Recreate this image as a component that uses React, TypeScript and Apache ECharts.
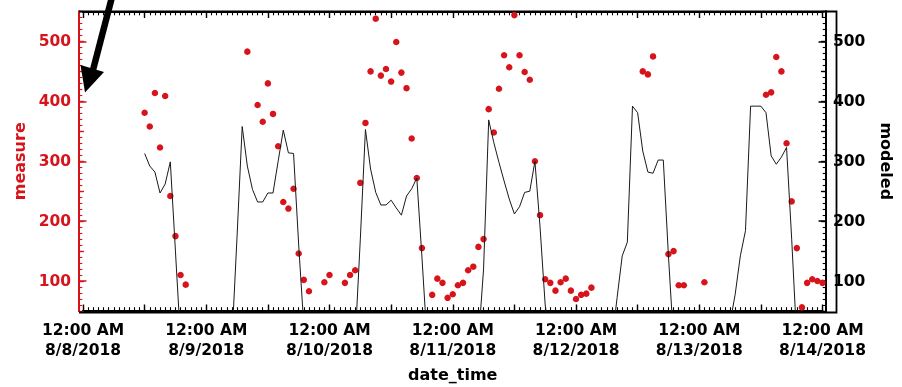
import React, { useEffect, useRef } from 'react';
import * as echarts from 'echarts';

// measured values (hours since 8/8/2018 12:00 AM)
const measureHours = [
  12, 13, 14, 15, 16, 17, 18, 19, 20,
  32, 34, 35, 36, 37, 38, 39, 40, 41, 42, 43, 44,
  47, 48, 51, 52, 53, 54, 55, 56, 57, 58, 59, 60, 61, 62, 63, 64, 65, 66,
  68, 69, 70, 71, 72, 73, 74, 75, 76, 77, 78, 79, 80, 81, 82, 83, 84, 85, 86, 87, 88, 89, 90, 91, 92, 93, 94, 95, 96, 97, 98, 99,
  109, 110, 111, 114, 115, 116, 117, 121,
  133, 134, 135, 136, 137, 138, 139, 140, 141, 142, 143, 144,
];
const measureValues = [
  381, 358, 414, 323, 409, 242, 175, 110, 94,
  483, 394, 366, 430, 379, 325, 232, 221, 254, 146, 102, 83,
  98, 110, 97, 110, 118, 264, 364, 450, 538, 443, 454, 433, 499, 448, 422, 338, 272, 155,
  77, 104, 97, 72, 78, 93, 97, 118, 124, 157, 170, 387, 348, 421, 477, 457, 544, 477, 449, 436, 300, 210, 103, 97, 84, 98, 104, 84, 70, 77, 79, 89,
  450, 445, 475, 145, 150, 93, 93, 98,
  411, 415, 474, 450, 330, 233, 155, 56, 97, 103, 100, 97,
];

// modeled values, hourly from hour 12 to hour 144
const modeledStartHour = 12;
const modeledValues = [
  313, 292, 282, 247, 262, 299, 150,
  0, 0, 0, 0, 0, 0, 0, 0, 0, 0, 0,
  175, 358, 292, 253, 232, 232, 247, 247, 300, 352, 314, 313, 160, 25,
  0, 0, 0, 0, 0, 0, 0, 0, 0, 0,
  170, 353, 287, 248, 227, 227, 235, 222, 210, 242, 254, 272, 140,
  0, 0, 0, 0, 0, 0, 0, 0, 0, 0, 0,
  120, 369, 331, 298, 267, 237, 212, 224, 248, 250, 300, 190, 60,
  0, 0, 0, 0, 0, 0, 0, 0, 0, 0, 0, 0, 0,
  72, 142, 165, 392, 381, 317, 282, 280, 302, 302, 142,
  0, 0, 0, 0, 0, 0, 0, 0, 0, 0, 0,
  30, 78, 142, 184, 392, 392, 392, 381, 309, 295, 307, 323, 170,
  0, 0, 0, 0, 0, 0,
];

const timeLabel = '12:00 AM';
const dayLabels = ['8/8/2018', '8/9/2018', '8/10/2018', '8/11/2018', '8/12/2018', '8/13/2018', '8/14/2018'];
const yMajorTicks = [100, 200, 300, 400, 500];

export default function App() {
  const ref = useRef<HTMLDivElement>(null);
  useEffect(() => {
    const chart = echarts.init(ref.current as HTMLDivElement, null, { renderer: 'svg' });
    const RED = '#d7141b';
    const FONT = 'DejaVu Sans';
    const measureData = measureHours.map((h, i) => [h, measureValues[i]]);
    const modeledData = modeledValues.map((v, i) => [modeledStartHour + i, v]);

    const xTicks = (pos: string, interval: number, length: number, width: number) => ({
      type: 'value',
      min: 0,
      max: 144,
      interval,
      position: pos,
      axisLine: { show: true, onZero: false, lineStyle: { color: '#000', width: 1.8 } },
      axisLabel: { show: false },
      axisTick: { show: true, inside: true, length, lineStyle: { color: '#000', width } },
      splitLine: { show: false },
    });

    const yTicks = (pos: string, color: string, offset: number, interval: number, length: number, width: number, custom?: number[]) => ({
      type: 'value',
      min: 50,
      max: 550,
      interval,
      position: pos,
      offset,
      axisLine: { show: true, onZero: false, lineStyle: { color, width: 1.8 } },
      axisLabel: { show: false },
      axisTick: custom
        ? { show: true, inside: true, length, customValues: custom, lineStyle: { color, width } }
        : { show: true, inside: true, length, lineStyle: { color, width } },
      splitLine: { show: false },
    });

    const yLabel = (color: string, margin: number) => ({
      show: true,
      margin,
      color,
      fontFamily: FONT,
      fontWeight: 'bold',
      fontSize: 15.5,
      formatter: (v: number) => (yMajorTicks.indexOf(v) >= 0 ? String(v) : ''),
    });

    chart.setOption({
      animation: false,
      grid: { left: 83, right: 69, top: 11.5, bottom: 74.5 },
      xAxis: [
        {
          ...xTicks('bottom', 12, 6.5, 1.4),
          name: 'date_time',
          nameLocation: 'middle',
          nameGap: 55,
          nameTextStyle: { color: '#000', fontFamily: FONT, fontWeight: 'bold', fontSize: 16 },
          axisLabel: {
            show: true,
            margin: 8.5,
            color: '#000',
            fontFamily: FONT,
            fontWeight: 'bold',
            fontSize: 15.5,
            lineHeight: 20,
            formatter: (v: number) => (v % 24 === 0 ? `${timeLabel}\n${dayLabels[v / 24]}` : ''),
          },
        },
        xTicks('bottom', 1, 3.8, 1.1),
        xTicks('top', 12, 6.5, 1.4),
        xTicks('top', 1, 3.8, 1.1),
      ],
      yAxis: [
        {
          ...yTicks('left', RED, 4, 50, 5, 1.4),
          name: 'measure',
          nameLocation: 'middle',
          nameGap: 40,
          nameTextStyle: { color: RED, fontFamily: FONT, fontWeight: 'bold', fontSize: 16 },
          axisLabel: yLabel(RED, 8),
        },
        yTicks('left', RED, 4, 10, 3.3, 1.1),
        {
          ...yTicks('right', '#000', 3.5, 50, 5, 1.4),
          name: 'modeled',
          nameLocation: 'middle',
          nameGap: 52,
          nameRotate: -90,
          nameTextStyle: { color: '#000', fontFamily: FONT, fontWeight: 'bold', fontSize: 16 },
          axisLabel: yLabel('#000', 7),
        },
        yTicks('right', '#000', 3.5, 10, 3.3, 1.1),
        yTicks('left', RED, 4, 50, 7.5, 1.5, yMajorTicks),
        yTicks('right', '#000', 3.5, 50, 7.5, 1.5, yMajorTicks),
      ],
      series: [
        {
          name: 'measure',
          type: 'scatter',
          xAxisIndex: 0,
          yAxisIndex: 0,
          data: measureData,
          symbol: 'circle',
          symbolSize: 6.5,
          itemStyle: { color: RED, opacity: 1 },
          z: 2,
        },
        {
          name: 'modeled',
          type: 'line',
          xAxisIndex: 0,
          yAxisIndex: 2,
          data: modeledData,
          showSymbol: false,
          clip: true,
          lineStyle: { color: '#1a1a1a', width: 1 },
          z: 3,
        },
      ],
      graphic: [
        {
          type: 'polyline',
          shape: { points: [[79, 11.5], [836.5, 11.5], [836.5, 312.5], [79, 312.5]] },
          style: { stroke: '#000', lineWidth: 1.8, fill: null },
          z: 1,
        },
        {
          type: 'line',
          shape: { x1: 112, y1: -3, x2: 93, y2: 70 },
          style: { stroke: '#000', lineWidth: 6.5 },
          z: 100,
        },
        {
          type: 'polygon',
          shape: { points: [[80.5, 65], [104, 72], [85, 92.5]] },
          style: { fill: '#000' },
          z: 100,
        },
      ],
    });
    return () => chart.dispose();
  }, []);
  return <div ref={ref} style={{ position: 'fixed', left: 0, top: 0, width: 902, height: 387 }} />;
}
